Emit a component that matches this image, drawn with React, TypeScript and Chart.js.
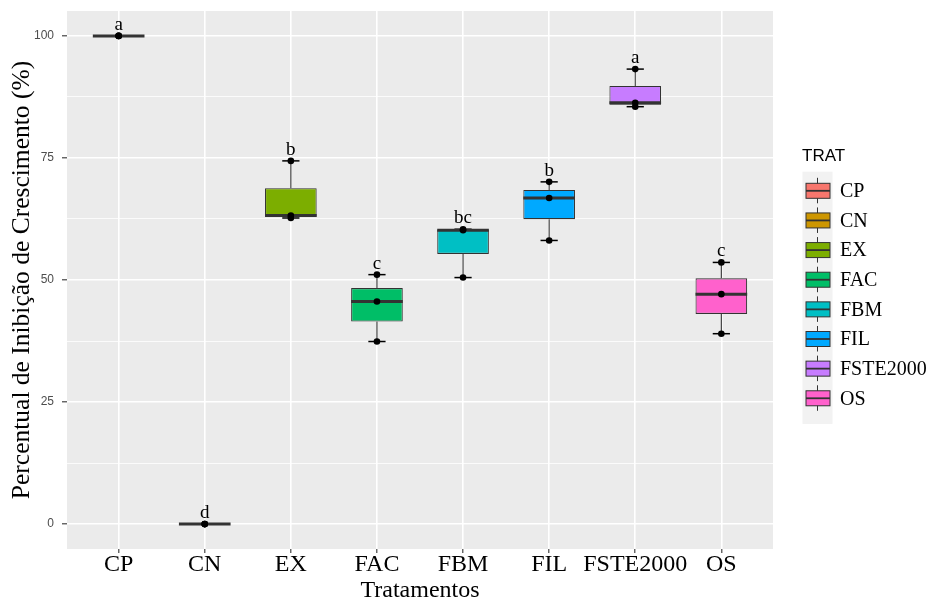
import { useEffect, useRef } from "react";
import { Chart, registerables, type Plugin } from "chart.js";

Chart.register(...registerables);

const treatments = ["CP", "CN", "EX", "FAC", "FBM", "FIL", "FSTE2000", "OS"];
const boxColors = ["#F8766D", "#CD9600", "#7CAE00", "#00BE67", "#00BFC4", "#00A9FF", "#C77CFF", "#FF61CC"];
const groupLetters = ["a", "d", "b", "c", "bc", "b", "a", "c"];

// three replicates per treatment, % growth inhibition
const cpValues = [100, 100, 100];
const cnValues = [0, 0, 0];
const exValues = [62.7, 63.2, 74.4];
const facValues = [37.4, 45.6, 51.1];
const fbmValues = [50.5, 60.2, 60.4];
const filValues = [58.1, 66.8, 70.1];
const fsteValues = [85.5, 86.3, 93.2];
const osValues = [39.0, 47.1, 53.6];

const replicates = [cpValues, cnValues, exValues, facValues, fbmValues, filValues, fsteValues, osValues];

const yMajorTicks = [0, 25, 50, 75, 100];
const yMinorTicks = [12.5, 37.5, 62.5, 87.5];

const SERIF = "'Liberation Serif', 'Times New Roman', serif";
const SANS = "'Liberation Sans', Arial, sans-serif";

/** Type-7 quantile (R default) on an already sorted array. */
function quantile(sorted: number[], p: number): number {
  const h = (sorted.length - 1) * p;
  const lo = Math.floor(h);
  const hi = Math.ceil(h);
  return sorted[lo] + (h - lo) * (sorted[hi] - sorted[lo]);
}

function boxStats(values: number[]) {
  const s = [...values].sort((a, b) => a - b);
  const q1 = quantile(s, 0.25);
  const med = quantile(s, 0.5);
  const q3 = quantile(s, 0.75);
  const iqr = q3 - q1;
  const inside = s.filter((v) => v >= q1 - 1.5 * iqr && v <= q3 + 1.5 * iqr);
  return { q1, med, q3, lo: inside[0], hi: inside[inside.length - 1] };
}

const stats = replicates.map(boxStats);

const isMajor = (v: number) => yMajorTicks.includes(v);

/** ggplot grey panel behind the grid. */
const panelPlugin: Plugin<"bar"> = {
  id: "panelBackground",
  beforeDraw(chart) {
    const { ctx, chartArea } = chart;
    ctx.save();
    ctx.fillStyle = "#EBEBEB";
    ctx.fillRect(chartArea.left, chartArea.top, chartArea.width, chartArea.height);
    ctx.restore();
  }
};

/** Whiskers, errorbar caps and median lines, drawn right after the box bars. */
const boxPartsPlugin: Plugin<"bar"> = {
  id: "boxParts",
  afterDatasetDraw(chart, args) {
    if (args.index !== 0) return;
    const { ctx } = chart;
    const x = chart.scales.x;
    const y = chart.scales.y;
    const seg = (x1: number, y1: number, x2: number, y2: number) => {
      ctx.beginPath();
      ctx.moveTo(x1, y1);
      ctx.lineTo(x2, y2);
      ctx.stroke();
    };
    ctx.save();
    stats.forEach((s, i) => {
      const cx = x.getPixelForValue(i);
      ctx.strokeStyle = "#333333";
      ctx.lineWidth = 1.1;
      seg(cx, y.getPixelForValue(s.q3), cx, y.getPixelForValue(s.hi));
      seg(cx, y.getPixelForValue(s.q1), cx, y.getPixelForValue(s.lo));

      ctx.strokeStyle = "#000000";
      ctx.lineWidth = 1.5;
      const capL = x.getPixelForValue(i - 0.1);
      const capR = x.getPixelForValue(i + 0.1);
      seg(capL, y.getPixelForValue(s.hi), capR, y.getPixelForValue(s.hi));
      seg(capL, y.getPixelForValue(s.lo), capR, y.getPixelForValue(s.lo));

      ctx.strokeStyle = "#333333";
      ctx.lineWidth = 3;
      seg(x.getPixelForValue(i - 0.3), y.getPixelForValue(s.med), x.getPixelForValue(i + 0.3), y.getPixelForValue(s.med));
    });
    ctx.restore();
  }
};

/** Tukey group letters above each upper whisker. */
const lettersPlugin: Plugin<"bar"> = {
  id: "groupLetters",
  afterDatasetsDraw(chart) {
    const { ctx } = chart;
    const x = chart.scales.x;
    const y = chart.scales.y;
    ctx.save();
    ctx.font = `19px ${SERIF}`;
    ctx.fillStyle = "#000000";
    ctx.textAlign = "center";
    ctx.textBaseline = "alphabetic";
    groupLetters.forEach((letter, i) => {
      ctx.fillText(letter, x.getPixelForValue(i), y.getPixelForValue(stats[i].hi) - 6);
    });
    ctx.restore();
  }
};

/** Fill legend with small boxplot glyphs, as ggplot draws it. */
const legendPlugin: Plugin<"bar"> = {
  id: "boxLegend",
  afterDraw(chart) {
    const { ctx, chartArea } = chart;
    const left = chartArea.right + 29.5;
    const keyW = 30;
    const step = 29.64;
    const firstCenter = chartArea.top + 179.8;
    const lastCenter = firstCenter + step * (treatments.length - 1);
    const bgTop = chartArea.top + 160.7;
    const bgBottom = lastCenter + 25.7;

    ctx.save();
    ctx.fillStyle = "#000000";
    ctx.font = `17px ${SANS}`;
    ctx.textAlign = "left";
    ctx.textBaseline = "middle";
    ctx.fillText("TRAT", left - 0.5, chartArea.top + 145.5);

    ctx.fillStyle = "#F2F2F2";
    ctx.fillRect(left, bgTop, keyW, bgBottom - bgTop);

    treatments.forEach((name, i) => {
      const cy = firstCenter + step * i;
      const cx = left + keyW / 2;
      ctx.strokeStyle = "#333333";
      ctx.lineWidth = 1;
      ctx.beginPath();
      ctx.moveTo(cx, cy - 13);
      ctx.lineTo(cx, cy + 12.5);
      ctx.stroke();

      ctx.fillStyle = boxColors[i];
      ctx.fillRect(left + 3.5, cy - 7.5, 24, 15);
      ctx.strokeRect(left + 3.5, cy - 7.5, 24, 15);
      ctx.lineWidth = 1.8;
      ctx.beginPath();
      ctx.moveTo(left + 3.5, cy);
      ctx.lineTo(left + 27.5, cy);
      ctx.stroke();

      ctx.fillStyle = "#000000";
      ctx.font = `20px ${SERIF}`;
      ctx.fillText(name, left + 37.5, cy + 1);
    });
    ctx.restore();
  }
};

export default function App() {
  const canvasRef = useRef<HTMLCanvasElement>(null);

  useEffect(() => {
    document.body.style.margin = "0";
    const canvas = canvasRef.current;
    if (!canvas) return;

    const chart = new Chart(canvas, {
      type: "bar",
      data: {
        datasets: [
          {
            type: "bar",
            data: stats.map((s, i) => ({ x: i, y: [s.q1, s.q3] })) as any,
            backgroundColor: boxColors,
            borderColor: "#333333",
            borderWidth: 1.1,
            borderSkipped: false,
            barPercentage: 0.6,
            categoryPercentage: 1,
            order: 2
          },
          {
            type: "scatter",
            data: replicates.flatMap((vals, i) => vals.map((v) => ({ x: i, y: v }))),
            pointRadius: 3.3,
            pointHoverRadius: 3.3,
            backgroundColor: "#000000",
            borderColor: "#000000",
            borderWidth: 0,
            showLine: false,
            order: 1
          } as any
        ]
      },
      options: {
        animation: false,
        responsive: true,
        maintainAspectRatio: false,
        layout: { padding: { top: 11, right: 155, left: 0, bottom: 0 } },
        plugins: {
          legend: { display: false },
          tooltip: { enabled: false }
        },
        scales: {
          x: {
            type: "linear",
            offset: false,
            min: -0.6,
            max: 7.6,
            afterBuildTicks: (scale) => {
              scale.ticks = treatments.map((_, i) => ({ value: i }));
            },
            afterFit: (scale) => {
              scale.height = 50;
              scale.paddingLeft = 0;
              scale.paddingRight = 0;
            },
            border: { display: false },
            grid: { offset: false, color: "#FFFFFF", lineWidth: 1.6, tickLength: 4, tickColor: "#333333", tickWidth: 1.1 },
            ticks: {
              autoSkip: false,
              maxRotation: 0,
              padding: -3,
              color: "#000000",
              font: { family: SERIF, size: 24 },
              callback: (value) => treatments[Number(value)] ?? ""
            },
            title: {
              display: true,
              text: "Tratamentos",
              color: "#000000",
              font: { family: SERIF, size: 24, lineHeight: 1 },
              padding: { top: 0, bottom: -4 }
            }
          },
          y: {
            type: "linear",
            min: -5.1,
            max: 105.1,
            afterBuildTicks: (scale) => {
              scale.ticks = [...yMajorTicks, ...yMinorTicks].sort((a, b) => a - b).map((value) => ({ value }));
            },
            afterFit: (scale) => {
              scale.width = 67;
              scale.paddingTop = 0;
              scale.paddingBottom = 0;
            },
            border: { display: false },
            grid: {
              color: "#FFFFFF",
              lineWidth: (ctx) => (isMajor(ctx.tick?.value) ? 1.6 : 0.8),
              tickColor: (ctx) => (isMajor(ctx.tick?.value) ? "#333333" : "rgba(0,0,0,0)"),
              tickLength: 5,
              tickWidth: 1.1
            },
            ticks: {
              padding: 8,
              color: "#4D4D4D",
              font: { family: SANS, size: 12 },
              callback: (value) => (isMajor(Number(value)) ? String(value) : "")
            },
            title: {
              display: true,
              text: "Percentual de Inibição de Crescimento (%)",
              color: "#000000",
              font: { family: SERIF, size: 25.5, lineHeight: 1 },
              padding: { top: 10, bottom: 0 }
            }
          }
        }
      },
      plugins: [panelPlugin, boxPartsPlugin, lettersPlugin, legendPlugin]
    });

    return () => chart.destroy();
  }, []);

  return (
    <div style={{ width: 928, height: 599, position: "relative", background: "#FFFFFF" }}>
      <canvas ref={canvasRef} />
    </div>
  );
}
